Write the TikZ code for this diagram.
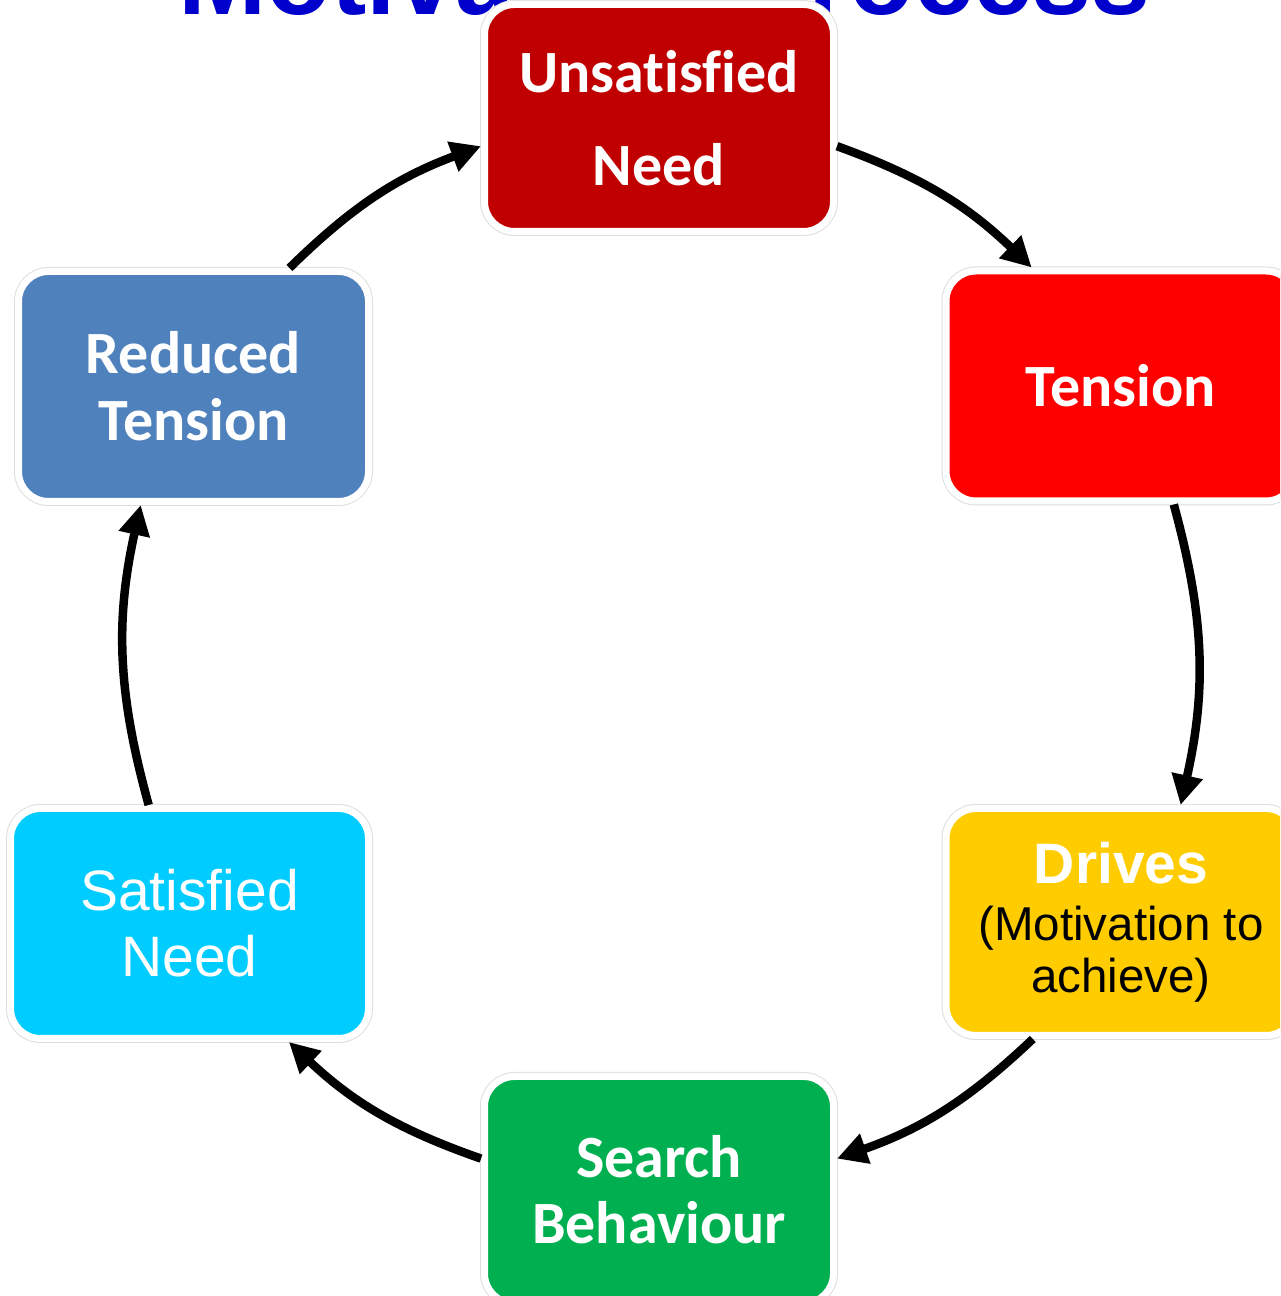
\documentclass[tikz,border=0pt]{standalone}
\usepackage{fontspec}
\setmainfont[Ligatures=NoCommon]{Carlito}
\newfontfamily\arialfont{Liberation Sans}
\usetikzlibrary{arrows.meta}
\definecolor{needred}{RGB}{192,0,0}
\definecolor{tensionred}{RGB}{255,0,0}
\definecolor{drivesyellow}{RGB}{255,204,0}
\definecolor{searchgreen}{RGB}{0,176,80}
\definecolor{satisfiedcyan}{RGB}{0,204,255}
\definecolor{reducedblue}{RGB}{79,129,189}
\definecolor{titleblue}{RGB}{0,0,204}
\begin{document}
\begin{tikzpicture}[x=1pt,y=1pt,
  stage/.style={rectangle, rounded corners=30pt, inner sep=0pt, align=center,
    minimum width=349pt, minimum height=227pt, draw=white, line width=7pt,
    preaction={draw=black!13, line width=9pt}, text=white},
  calibri/.style={font=\fontsize{60}{66}\selectfont\bfseries},
  flow/.style={line width=8.5pt, -{Triangle[length=30pt,width=30pt]}},
]
\useasboundingbox (0,0) rectangle (1280,1296);
\clip (0,0) rectangle (1280,1296);

% title, partly hidden behind the top box
\node[anchor=base, inner sep=0pt, text=titleblue,
      font=\arialfont\bfseries\fontsize{106}{106}\selectfont] (title) at (664.5,1281) {Motivation Process};

% the six stages of the cycle
\node[stage, fill=needred, font=\fontsize{60}{93}\selectfont\bfseries] (un) at (659,1178) {Unsatisfied\\Need};
\node[stage, fill=tensionred, calibri, minimum width=350pt, minimum height=230pt] (te) at (1121,910) {Tension};
\node[stage, fill=drivesyellow, text=black, minimum width=350pt,
      font=\arialfont\fontsize{47.5}{52}\selectfont] (dr) at (1121,374)
      {{\fontsize{57}{57}\selectfont\bfseries\color{white}Drives}\\[5pt](Motivation to\\achieve)};
\node[stage, fill=searchgreen, calibri] (sb) at (659,106) {Search\\Behaviour};
\node[stage, fill=satisfiedcyan, font=\arialfont\fontsize{57}{66}\selectfont,
      minimum width=358pt, minimum height=230pt] (sn) at (189.5,372.5) {Satisfied\\Need};
\node[stage, fill=reducedblue, font=\fontsize{60}{67}\selectfont\bfseries,
      minimum width=350pt, minimum height=230pt] (rt) at (193.5,909.5) {Reduced\\Tension};

% clockwise arrows between the stages
\draw[flow] (un.-9)    to[bend left=12] (te.127.6);
\draw[flow] (te.-66.8) to[bend left=14] (dr.63.8);
\draw[flow] (dr.-127.2) to[bend left=12] (sb.10);
\draw[flow] (sb.170.4) to[bend left=12] (sn.-50.3);
\draw[flow] (sn.109.3) to[bend left=14] (rt.-114.3);
\draw[flow] (rt.51.9)  to[bend left=12] (un.-171.2);
\end{tikzpicture}
\end{document}
